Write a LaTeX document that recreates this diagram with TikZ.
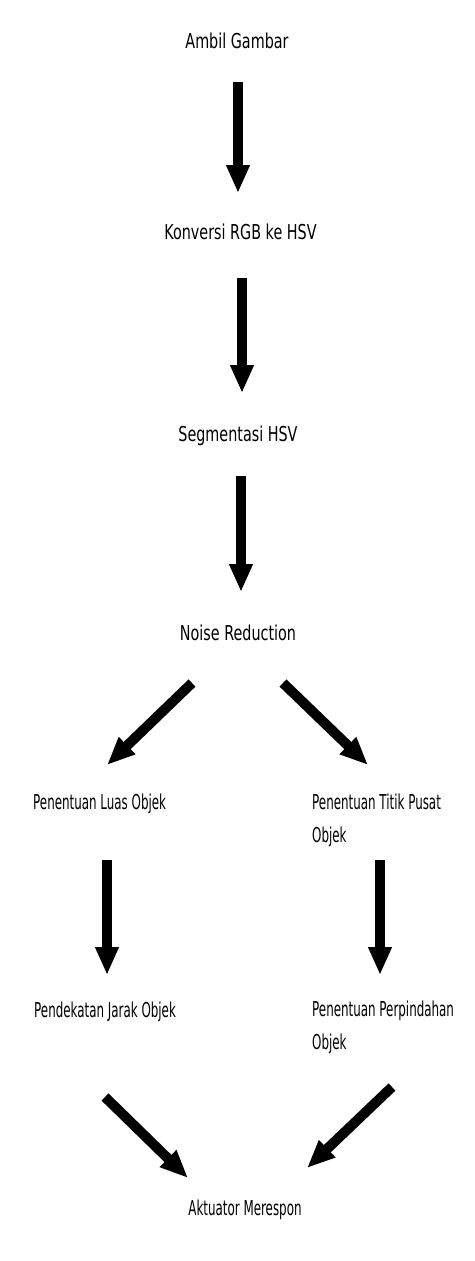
\documentclass[tikz,border=0pt]{standalone}
\usepackage{fontspec}
\setmainfont{DejaVu Sans}[FakeStretch=0.7]
\newfontfamily\narrowfont{DejaVu Sans}[FakeStretch=0.58]
\usetikzlibrary{calc,arrows.meta}

\tikzset{
  label text/.style={inner sep=0pt, font=\fontsize{20.5pt}{33pt}\selectfont},
  narrow text/.style={inner sep=0pt, font=\narrowfont\fontsize{20.5pt}{33pt}\selectfont},
  flow/.style={line width=10pt, -{Triangle[width=22pt,length=28pt]}}
}

\begin{document}
\begin{tikzpicture}[x=1pt,y=1pt,yscale=-1,xscale=1]
\useasboundingbox (0,0) rectangle (474,1261);
%Text nodes
\node [label text, anchor=base] (ambil) at (237,48) {Ambil Gambar};
\node [label text, anchor=base] (konversi) at (240.5,239) {Konversi RGB ke HSV};
\node [label text, anchor=base] (segmentasi) at (238,441) {Segmentasi HSV};
\node [label text, anchor=base] (noise) at (238,640) {Noise Reduction};
\node [narrow text, anchor=base west] (luas) at (33,809) {Penentuan Luas Objek};
\node [narrow text, anchor=base west, align=left] (titik) at (312,842) {Penentuan Titik Pusat\\Objek};
\node [narrow text, anchor=base west] (jarak) at (34,1017) {Pendekatan Jarak Objek};
\node [narrow text, anchor=base west, align=left] (pindah) at (312,1049) {Penentuan Perpindahan\\Objek};
\node [narrow text, anchor=base] (aktuator) at (245,1215) {Aktuator Merespon};
%Arrows
\draw [flow] ([shift={(1,34)}]ambil.base) -- ([shift={(-2.5,-46)}]konversi.base);
\draw [flow] ([shift={(1.5,39)}]konversi.base) -- ([shift={(4,-48)}]segmentasi.base);
\draw [flow] ([shift={(3,35)}]segmentasi.base) -- ([shift={(3,-48)}]noise.base);
\draw [flow] ([shift={(-46,43)}]noise.base) -- ([shift={(74,-44)}]luas.base west);
\draw [flow] ([shift={(45,43)}]noise.base) -- ([shift={(56,-77)}]titik.base west);
\draw [flow] ([shift={(74,51)}]luas.base west) -- ([shift={(73,-42)}]jarak.base west);
\draw [flow] ([shift={(68,18)}]titik.base west) -- ([shift={(68,-74)}]pindah.base west);
\draw [flow] ([shift={(71,80)}]jarak.base west) -- ([shift={(-57,-37)}]aktuator.base);
\draw [flow] ([shift={(80,38)}]pindah.base west) -- ([shift={(62,-47)}]aktuator.base);
\end{tikzpicture}
\end{document}
